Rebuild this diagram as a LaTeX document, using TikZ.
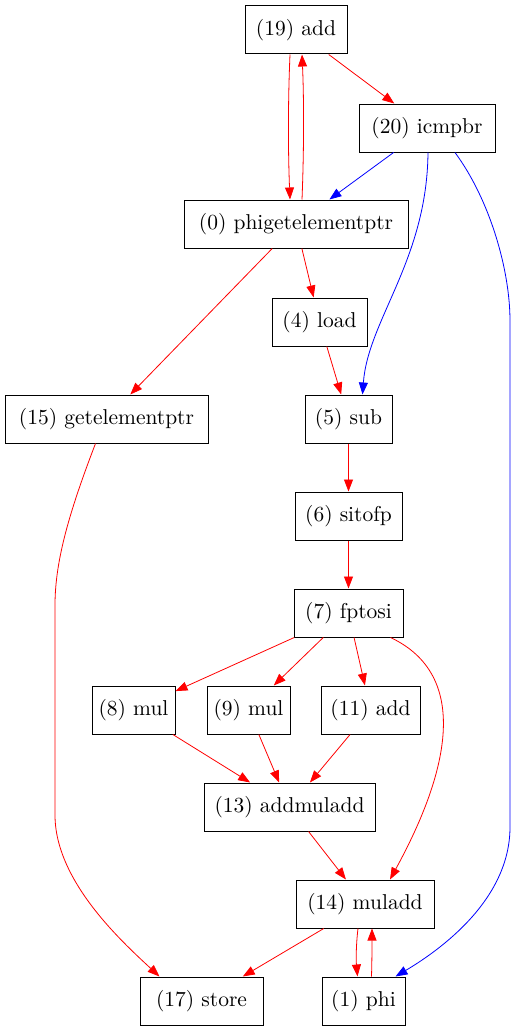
\documentclass[tikz,border=0pt]{standalone}
\usepackage{fontspec}
\usepackage{tikz}
\usetikzlibrary{arrows.meta}
\newfontfamily\opfont{lmroman10-regular.otf}

\begin{document}
\begin{tikzpicture}[x=1pt, y=-1pt]
\tikzstyle{op} = [rectangle, draw, line width=1pt, inner xsep=6pt, minimum height=48pt, font=\opfont\fontsize{21.5}{25}\selectfont]
\tikzstyle{redge} = [line width=0.8pt, red, -{Triangle[length=12pt, width=9pt]}]
\tikzstyle{bedge} = [line width=0.8pt, blue, -{Triangle[length=12pt, width=9pt]}]

\useasboundingbox (0,0) rectangle (516,1033);

\node [op, minimum width=102pt] (add19) at (296,30) {(19) add};
\node [op, minimum width=136pt] (icmp20) at (427,128) {(20) icmpbr};
\node [op, minimum width=224pt] (phigep0) at (296,224) {(0) phigetelementptr};
\node [op, minimum width=95pt] (load4) at (319.5,322) {(4) load};
\node [op, minimum width=203pt] (gep15) at (106.5,419) {(15) getelementptr};
\node [op, minimum width=87pt] (sub5) at (348.5,419) {(5) sub};
\node [op, minimum width=107pt] (sitofp6) at (348.5,516) {(6) sitofp};
\node [op, minimum width=109pt] (fptosi7) at (348.5,613) {(7) fptosi};
\node [op, minimum width=83pt] (mul8) at (133.5,710) {(8) mul};
\node [op, minimum width=83pt] (mul9) at (248.5,710) {(9) mul};
\node [op, minimum width=99pt] (add11) at (370.5,710) {(11) add};
\node [op, minimum width=171pt] (addmuladd13) at (289.5,807) {(13) addmuladd};
\node [op, minimum width=138pt] (muladd14) at (365,904) {(14) muladd};
\node [op, minimum width=123pt] (store17) at (201.5,1001) {(17) store};
\node [op, minimum width=83pt] (phi1) at (363.5,1001) {(1) phi};

% upper part
\draw [redge] ([xshift=-6pt]add19.south) .. controls (288,100) and (288,150) .. ([xshift=-6pt]phigep0.north);
\draw [redge] ([xshift=6pt]phigep0.north) .. controls (304,150) and (304,100) .. ([xshift=6pt]add19.south);
\draw [redge] (add19) -- (icmp20);
\draw [bedge] (icmp20) -- (phigep0);
\draw [bedge] ([xshift=1pt]icmp20.south) .. controls (427,260) and (368,320) .. ([xshift=14pt]sub5.north);
\draw [bedge] ([xshift=28pt]icmp20.south) .. controls (490,200) and (510,270) .. (510,321)
  -- (510,827) .. controls (510,900) and (440,950) .. ([xshift=-10pt]phi1.north east);
\draw [redge] (phigep0) -- (load4);
\draw [redge] (phigep0) -- (gep15);
\draw [redge] (load4) -- (sub5);
\draw [redge] ([xshift=-11pt]gep15.south) .. controls (70,510) and (55,560) .. (55,605)
  -- (55,815) .. controls (55,880) and (120,940) .. ([xshift=20pt]store17.north west);

% middle chain
\draw [redge] (sub5) -- (sitofp6);
\draw [redge] (sitofp6) -- (fptosi7);
\draw [redge] (fptosi7) -- (mul8);
\draw [redge] (fptosi7) -- (mul9);
\draw [redge] (fptosi7) -- (add11);
\draw [redge] ([xshift=-13pt]fptosi7.south east) .. controls (470,675) and (450,770) .. ([xshift=25pt]muladd14.north);
\draw [redge] (mul8) -- (addmuladd13);
\draw [redge] (mul9) -- (addmuladd13);
\draw [redge] (add11) -- (addmuladd13);
\draw [redge] (addmuladd13) -- (muladd14);

% bottom
\draw [redge] (muladd14) -- (store17);
\draw [redge] ([xshift=-7pt]muladd14.south) .. controls (356,945) and (356,960) .. ([xshift=-6pt]phi1.north);
\draw [redge] ([xshift=8pt]phi1.north) .. controls (372,960) and (372,945) .. ([xshift=7pt]muladd14.south);

\end{tikzpicture}
\end{document}
